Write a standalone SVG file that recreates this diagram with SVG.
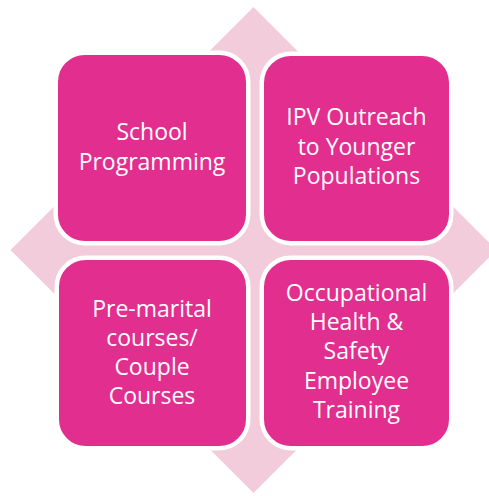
<svg xmlns="http://www.w3.org/2000/svg" width="489" height="496" viewBox="0 0 489 496">
<style>
.bg{fill:#F2CCDB;}
.box{fill:#E22E8F;stroke:#FFFFFF;stroke-width:4.5;}
.t{fill:#FFFFFF;font-family:"Open Sans","Liberation Sans",sans-serif;font-size:23px;text-anchor:middle;}
</style>
<rect width="489" height="496" fill="#FFFFFF"/>
<g id="connectors">
<path class="bg" d="M253.5,7 L333.5,87 L298.5,87 L298.5,205 L416.5,205 L416.5,170 L496.5,250 L416.5,330 L416.5,295 L298.5,295 L298.5,413 L333.5,413 L253.5,493 L173.5,413 L208.5,413 L208.5,295 L90.5,295 L90.5,330 L10.5,250 L90.5,170 L90.5,205 L208.5,205 L208.5,87 L173.5,87 Z"/>
</g>
<g id="node-school">
<rect class="box" x="55.75" y="52.75" width="192.5" height="190.5" rx="29"/>
<text class="t" x="152" y="140">School</text>
<text class="t" x="152" y="170">Programming</text>
</g>
<g id="node-ipv">
<rect class="box" x="261.75" y="53.75" width="189.5" height="189.5" rx="29"/>
<text class="t" x="356.5" y="125">IPV Outreach</text>
<text class="t" x="356.5" y="155">to Younger</text>
<text class="t" x="356.5" y="184">Populations</text>
</g>
<g id="node-premarital">
<rect class="box" x="56.75" y="257.75" width="191.5" height="190.5" rx="29"/>
<text class="t" x="152" y="317">Pre-marital</text>
<text class="t" x="152" y="346">courses/</text>
<text class="t" x="152" y="375">Couple</text>
<text class="t" x="152" y="404">Courses</text>
</g>
<g id="node-occupational">
<rect class="box" x="261.75" y="257.75" width="189.5" height="190.5" rx="29"/>
<text class="t" x="356.5" y="301">Occupational</text>
<text class="t" x="356.5" y="330">Health &amp;</text>
<text class="t" x="356.5" y="359">Safety</text>
<text class="t" x="356.5" y="389">Employee</text>
<text class="t" x="356.5" y="418">Training</text>
</g>
</svg>
